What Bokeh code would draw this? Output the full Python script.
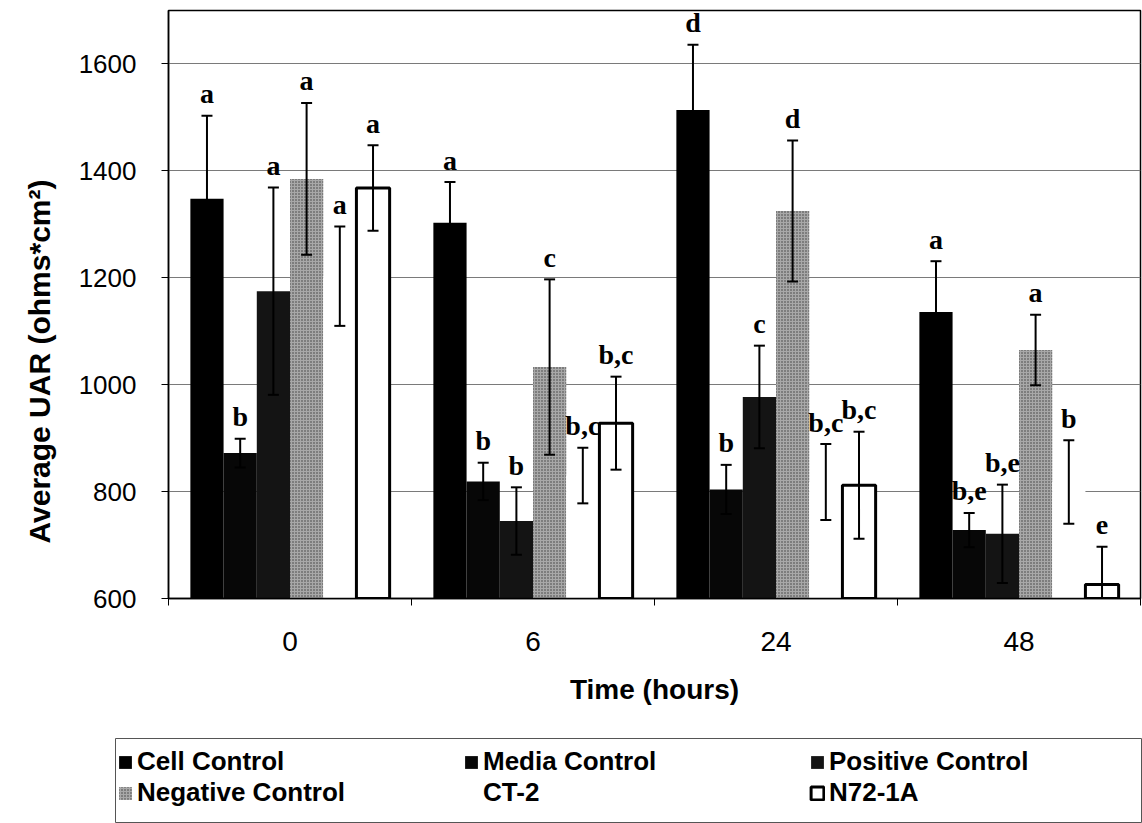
import numpy as np
from bokeh.plotting import figure
from bokeh.layouts import column
from bokeh.models import (FixedTicker, Legend, LegendItem, Range1d, Title)
from bokeh.core.properties import value
from bokeh.embed import file_html
from bokeh.resources import INLINE

# ---------------- data ----------------
times = ["0", "6", "24", "48"]
series = ["Cell Control", "Media Control", "Positive Control",
          "Negative Control", "CT-2", "N72-1A"]

cell_control = [1348, 1303, 1514, 1136]
cell_control_err = [155, 76, 122, 95]
media_control = [872, 819, 804, 728]
media_control_err = [27, 35, 46, 32]
positive_control = [1175, 745, 977, 721]
positive_control_err = [194, 63, 96, 92]
negative_control = [1385, 1033, 1325, 1065]
negative_control_err = [142, 164, 132, 66]
ct2 = [1203, 830, 818, 818]
ct2_err = [93, 52, 71, 78]
n72_1a = [1368, 928, 812, 626]
n72_1a_err = [80, 87, 100, 71]

cell_letters = ["a", "a", "d", "a"]
media_letters = ["b", "b", "b", "b,e"]
positive_letters = ["a", "b", "c", "b,e"]
negative_letters = ["a", "c", "d", "a"]
ct2_letters = ["a", "b,c", "b,c", "b"]
n72_letters = ["a", "b,c", "b,c", "e"]

y_ticks = [600, 800, 1000, 1200, 1400, 1600]

means = [cell_control, media_control, positive_control, negative_control, ct2, n72_1a]
errs = [cell_control_err, media_control_err, positive_control_err,
        negative_control_err, ct2_err, n72_1a_err]
letters = [cell_letters, media_letters, positive_letters, negative_letters,
           ct2_letters, n72_letters]

# ---------------- styles ----------------
styles = [
    dict(fill_color="#000000", line_color=None),
    dict(fill_color="#070707", line_color=None),
    dict(fill_color="#141414", line_color=None),
    dict(fill_color="#a8a8a8", line_color=None, hatch_pattern="dot",
         hatch_color="#3c3c3c", hatch_scale=3, hatch_weight=1.2),
    dict(fill_color="#ffffff", line_color=None),
    dict(fill_color="#ffffff", line_color="#000000", line_width=3),
]

FONT = "Liberation Sans"
bar_w = 0.82 / 6
xc = np.arange(len(times))


def bar_x(i):
    return xc - 0.41 + bar_w * (i + 0.5)


p = figure(width=1142, height=738, output_backend="svg", toolbar_location=None,
           x_range=Range1d(-0.5, 3.5), y_range=Range1d(600, 1700),
           min_border_left=167, min_border_right=2, min_border_top=10,
           min_border_bottom=140)
p.frame_align = False
p.background_fill_color = "white"
p.border_fill_color = "white"
p.outline_line_color = "black"
p.outline_line_width = 1.5

for i, (m, st) in enumerate(zip(means, styles)):
    p.vbar(x=bar_x(i), top=m, bottom=600, width=bar_w, **st)

for i, (m, e, lab) in enumerate(zip(means, errs, letters)):
    xs = bar_x(i)
    m = np.array(m, dtype=float)
    e = np.array(e, dtype=float)
    hi = m + e
    lo = m - e
    p.segment(x0=xs, y0=lo, x1=xs, y1=hi, line_color="black", line_width=2)
    p.scatter(x=np.concatenate([xs, xs]), y=np.concatenate([hi, lo]),
              marker="dash", size=11, line_color="black", line_width=2)
    p.text(x=xs, y=hi, text=lab, text_align="center", text_baseline="alphabetic",
           y_offset=-22, text_font=value("Liberation Serif"),
           text_font_style="bold", text_font_size="28px", text_color="black")

# axes
xa = p.xaxis[0]
xa.ticker = FixedTicker(ticks=list(range(len(times))),
                        minor_ticks=[k - 0.5 for k in range(len(times) + 1)])
xa.major_label_overrides = {k: t for k, t in enumerate(times)}
xa.major_tick_out = 0
xa.major_tick_in = 0
xa.minor_tick_out = 7
xa.minor_tick_in = 0
xa.minor_tick_line_color = "black"
xa.axis_line_color = "black"
xa.axis_line_width = 1.5
xa.major_label_text_font = FONT
xa.major_label_text_font_size = "28px"
xa.major_label_text_color = "black"
xa.major_label_standoff = 26
xa.axis_label = "Time (hours)"
xa.axis_label_text_font = FONT
xa.axis_label_text_font_size = "28px"
xa.axis_label_text_font_style = "bold"
xa.axis_label_text_color = "black"
xa.axis_label_standoff = 20

ya = p.yaxis[0]
ya.ticker = FixedTicker(ticks=y_ticks)
ya.major_tick_out = 7
ya.major_tick_in = 0
ya.minor_tick_out = 0
ya.minor_tick_in = 0
ya.axis_line_color = "black"
ya.axis_line_width = 1.5
ya.major_label_text_font = FONT
ya.major_label_text_font_size = "26px"
ya.major_label_text_color = "black"
ya.major_label_standoff = 25

p.xgrid.grid_line_color = None
p.ygrid.grid_line_color = "#7a7a7a"
p.ygrid.grid_line_width = 1

ytitle = Title(text="Average UAR (ohms*cm²)", align="left", offset=55,
               text_font=FONT, text_font_size="30px", text_font_style="bold",
               text_color="black", standoff=40)
p.add_layout(ytitle, "left")

# ---------------- legend strip ----------------
q = figure(width=1142, height=85, output_backend="svg", toolbar_location=None,
           x_range=Range1d(0, 1), y_range=Range1d(0, 1),
           x_axis_location=None, y_axis_location=None,
           min_border_left=115, min_border_right=0, min_border_top=0,
           min_border_bottom=0)
q.frame_align = False
q.xgrid.grid_line_color = None
q.ygrid.grid_line_color = None
q.outline_line_color = "#555555"
q.outline_line_width = 1
q.background_fill_color = "white"
q.border_fill_color = "white"

# legend-only swatch renderers (NaN geometry: nothing is drawn in the strip)
swatches = [q.vbar(x=[np.nan], top=[np.nan], bottom=[np.nan], width=bar_w, **st)
            for st in styles]
items = [LegendItem(label=name, renderers=[r]) for name, r in zip(series, swatches)]
legend = Legend(items=items, location=(2, 15), orientation="horizontal", ncols=3,
                glyph_width=16, glyph_height=16, label_standoff=4, label_width=326,
                label_height=26, spacing=0, padding=8, margin=0,
                label_text_font=FONT, label_text_font_size="26px",
                label_text_font_style="bold", label_text_color="black",
                border_line_color=None, background_fill_alpha=0.0)
q.add_layout(legend)

layout = column(p, q, spacing=0)
open("out.html", "w").write(file_html(layout, INLINE))
